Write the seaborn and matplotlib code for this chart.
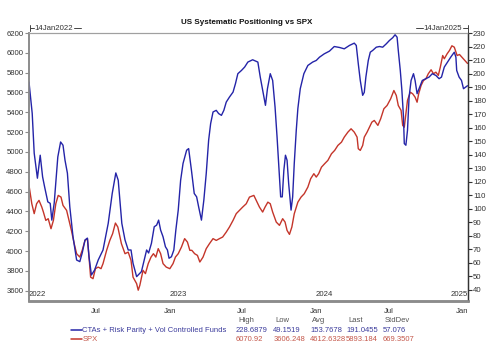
import matplotlib
matplotlib.use("Agg")
import matplotlib.pyplot as plt
import matplotlib.dates as mdates
from matplotlib.lines import Line2D
import pandas as pd
import seaborn as sns

sns.set_theme(style="white")
plt.rcParams["font.family"] = ["Liberation Sans", "DejaVu Sans"]

BLUE = "#2424a8"
RED = "#c4352a"
BLUE_TXT = "#3c3c9c"
RED_TXT = "#c4574a"
GREY = "#8c8c8c"

# CTAs + Risk Parity + Vol Controlled Funds (right axis)
pos_dates = [
    "2022-01-14", "2022-01-22", "2022-01-27", "2022-02-04", "2022-02-11", "2022-02-17",
    "2022-02-22", "2022-03-02", "2022-03-08", "2022-03-12", "2022-03-18", "2022-03-27",
    "2022-04-03", "2022-04-09", "2022-04-14", "2022-04-20", "2022-04-26", "2022-05-04",
    "2022-05-13", "2022-05-21", "2022-05-27", "2022-06-03", "2022-06-09", "2022-06-13",
    "2022-06-19", "2022-06-27", "2022-07-06", "2022-07-18", "2022-07-31", "2022-08-10",
    "2022-08-19", "2022-08-25", "2022-09-03", "2022-09-11", "2022-09-19", "2022-09-26",
    "2022-10-01", "2022-10-10", "2022-10-18", "2022-10-22", "2022-10-29", "2022-11-04",
    "2022-11-09", "2022-11-16", "2022-11-23", "2022-11-29", "2022-12-04", "2022-12-09",
    "2022-12-15", "2022-12-21", "2022-12-26", "2022-12-30", "2023-01-05", "2023-01-11",
    "2023-01-16", "2023-01-22", "2023-01-28", "2023-02-03", "2023-02-12", "2023-02-17",
    "2023-02-24", "2023-03-03", "2023-03-09", "2023-03-14", "2023-03-21", "2023-03-27",
    "2023-04-02", "2023-04-08", "2023-04-13", "2023-04-19", "2023-04-27", "2023-05-03",
    "2023-05-10", "2023-05-16", "2023-05-22", "2023-05-30", "2023-06-08", "2023-06-14",
    "2023-06-20", "2023-06-29", "2023-07-07", "2023-07-15", "2023-07-27", "2023-08-09",
    "2023-08-15", "2023-08-21", "2023-08-28", "2023-09-02", "2023-09-09", "2023-09-15",
    "2023-09-21", "2023-09-26", "2023-09-30", "2023-10-05", "2023-10-09", "2023-10-13",
    "2023-10-17", "2023-10-21", "2023-10-25", "2023-10-31", "2023-11-04", "2023-11-08",
    "2023-11-13", "2023-11-17", "2023-11-23", "2023-12-02", "2023-12-12", "2023-12-24",
    "2024-01-02", "2024-01-10", "2024-01-22", "2024-02-04", "2024-02-16", "2024-02-29",
    "2024-03-12", "2024-03-25", "2024-04-06", "2024-04-11", "2024-04-16", "2024-04-21",
    "2024-04-27", "2024-05-01", "2024-05-05", "2024-05-11", "2024-05-16", "2024-05-22",
    "2024-05-31", "2024-06-08", "2024-06-16", "2024-06-25", "2024-07-03", "2024-07-11",
    "2024-07-17", "2024-07-22", "2024-07-25", "2024-07-30", "2024-08-03", "2024-08-07",
    "2024-08-09", "2024-08-13", "2024-08-17", "2024-08-21", "2024-08-26", "2024-09-01",
    "2024-09-05", "2024-09-10", "2024-09-15", "2024-09-23", "2024-10-02", "2024-10-10",
    "2024-10-18", "2024-10-27", "2024-11-04", "2024-11-10", "2024-11-17", "2024-11-25",
    "2024-12-03", "2024-12-12", "2024-12-16", "2024-12-18", "2024-12-24", "2024-12-30",
    "2025-01-04", "2025-01-14",
]
pos_values = [
    193.7, 170.6, 141.1, 122.6, 139.6, 123.6,
    116.2, 105.1, 104.0, 91.6, 104.2, 138.3,
    149.4, 147.0, 135.9, 126.3, 101.4, 79.3,
    62.1, 60.9, 67.3, 76.9, 78.3, 64.5,
    51.0, 54.7, 62.1, 69.5, 89.2, 111.3,
    126.5, 121.1, 89.2, 76.9, 69.5, 69.5,
    59.7, 49.8, 52.3, 53.5, 62.1, 69.5,
    67.3, 74.4, 86.7, 87.9, 91.6, 84.2,
    79.3, 71.9, 69.5, 63.4, 64.5, 69.5,
    84.2, 99.0, 121.1, 133.5, 143.3, 144.5,
    128.5, 111.3, 108.8, 101.4, 91.6, 106.4,
    126.1, 150.7, 163.0, 171.6, 172.8, 170.4,
    169.1, 172.8, 178.9, 182.6, 186.3, 192.5,
    199.9, 202.3, 204.8, 208.5, 210.2, 208.5,
    197.4, 187.6, 176.5, 188.8, 199.9, 194.9,
    175.2, 153.1, 133.5, 108.8, 108.8, 128.5,
    139.6, 135.9, 118.7, 99.0, 108.8, 133.5,
    158.0, 174.1, 188.8, 199.9, 206.0, 208.5,
    209.7, 212.1, 214.6, 216.6, 220.0, 219.3,
    218.3, 220.8, 222.5, 220.8, 207.3, 194.9,
    183.9, 186.1, 197.4, 209.7, 215.8, 217.1,
    219.5, 220.0, 219.5, 222.0, 224.5, 226.5,
    228.7, 226.9, 217.1, 202.3, 187.6, 167.9,
    148.2, 147.0, 158.0, 182.6, 194.9, 199.9,
    194.9, 185.1, 188.8, 194.9, 196.2, 197.4,
    199.9, 198.6, 196.2, 197.4, 204.8, 208.5,
    212.1, 215.8, 212.1, 202.3, 197.4, 194.9,
    188.8, 191.0,
]

# SPX (left axis)
spx_dates = [
    "2022-01-14", "2022-01-21", "2022-01-27", "2022-02-02", "2022-02-08", "2022-02-15",
    "2022-02-19", "2022-02-25", "2022-03-03", "2022-03-10", "2022-03-16", "2022-03-22",
    "2022-03-28", "2022-04-04", "2022-04-09", "2022-04-18", "2022-04-24", "2022-04-30",
    "2022-05-07", "2022-05-13", "2022-05-21", "2022-05-27", "2022-06-03", "2022-06-09",
    "2022-06-13", "2022-06-17", "2022-06-23", "2022-06-29", "2022-07-06", "2022-07-13",
    "2022-07-18", "2022-07-27", "2022-08-04", "2022-08-11", "2022-08-18", "2022-08-24",
    "2022-09-02", "2022-09-11", "2022-09-19", "2022-09-26", "2022-10-01", "2022-10-10",
    "2022-10-14", "2022-10-18", "2022-10-26", "2022-11-01", "2022-11-08", "2022-11-15",
    "2022-11-21", "2022-11-27", "2022-12-03", "2022-12-09", "2022-12-15", "2022-12-23",
    "2023-01-01", "2023-01-09", "2023-01-15", "2023-01-22", "2023-01-30", "2023-02-07",
    "2023-02-14", "2023-02-20", "2023-02-25", "2023-03-04", "2023-03-11", "2023-03-17",
    "2023-03-25", "2023-04-02", "2023-04-10", "2023-04-19", "2023-04-27", "2023-05-05",
    "2023-05-13", "2023-05-22", "2023-05-30", "2023-06-08", "2023-06-16", "2023-06-24",
    "2023-07-02", "2023-07-11", "2023-07-19", "2023-07-30", "2023-08-05", "2023-08-13",
    "2023-08-21", "2023-08-27", "2023-09-03", "2023-09-09", "2023-09-15", "2023-09-24",
    "2023-10-02", "2023-10-10", "2023-10-16", "2023-10-21", "2023-10-27", "2023-11-02",
    "2023-11-08", "2023-11-17", "2023-11-25", "2023-12-03", "2023-12-12", "2023-12-19",
    "2023-12-27", "2024-01-02", "2024-01-08", "2024-01-15", "2024-01-23", "2024-01-31",
    "2024-02-09", "2024-02-17", "2024-02-25", "2024-03-05", "2024-03-12", "2024-03-21",
    "2024-03-29", "2024-04-06", "2024-04-13", "2024-04-16", "2024-04-21", "2024-04-27",
    "2024-05-01", "2024-05-08", "2024-05-14", "2024-05-20", "2024-05-26", "2024-06-04",
    "2024-06-11", "2024-06-19", "2024-06-27", "2024-07-06", "2024-07-14", "2024-07-20",
    "2024-07-25", "2024-08-01", "2024-08-05", "2024-08-09", "2024-08-13", "2024-08-17",
    "2024-08-24", "2024-08-30", "2024-09-05", "2024-09-10", "2024-09-14", "2024-09-20",
    "2024-09-26", "2024-10-02", "2024-10-08", "2024-10-15", "2024-10-21", "2024-10-27",
    "2024-11-02", "2024-11-07", "2024-11-13", "2024-11-17", "2024-11-24", "2024-11-30",
    "2024-12-06", "2024-12-12", "2024-12-19", "2024-12-25", "2024-12-31", "2025-01-07",
    "2025-01-14",
]
spx_values = [
    4663, 4478, 4378, 4478, 4512, 4444,
    4394, 4310, 4327, 4226, 4310, 4478,
    4562, 4545, 4461, 4411, 4310, 4209,
    4075, 3974, 3940, 4008, 4108, 4126,
    3940, 3738, 3722, 3823, 3839, 3823,
    3874, 4008, 4108, 4176, 4283, 4243,
    4075, 3974, 3990, 3907, 3738, 3672,
    3606, 3655, 3806, 3773, 3874, 3940,
    3974, 3940, 4025, 3974, 3874, 3839,
    3823, 3874, 3940, 3974, 4041, 4126,
    4091, 4008, 4008, 3974, 3957, 3890,
    3940, 4025, 4075, 4126, 4108, 4126,
    4142, 4192, 4243, 4310, 4378, 4411,
    4444, 4478, 4545, 4562, 4512, 4444,
    4394, 4444, 4494, 4478, 4394, 4293,
    4260, 4327, 4293, 4209, 4169, 4243,
    4377, 4494, 4545, 4579, 4646, 4730,
    4781, 4747, 4781, 4847, 4882, 4915,
    4982, 5016, 5066, 5099, 5150, 5200,
    5234, 5200, 5150, 5033, 5016, 5066,
    5150, 5200, 5250, 5301, 5318, 5268,
    5335, 5436, 5469, 5537, 5620, 5570,
    5469, 5419, 5268, 5250, 5386, 5520,
    5603, 5587, 5553, 5502, 5587, 5671,
    5721, 5738, 5789, 5829, 5789, 5805,
    5772, 5855, 5973, 5940, 5990, 6024,
    6071, 6057, 5973, 5983, 5956, 5923,
    5893,
]

legend_names = ["CTAs + Risk Parity + Vol Controlled Funds", "SPX"]
stat_headers = ["High", "Low", "Avg", "Last", "StdDev"]
pos_stats = ["228.6879", "49.1519", "153.7678", "191.0455", "57.076"]
spx_stats = ["6070.92", "3606.248", "4612.6328", "5893.184", "669.3507"]

pos = pd.DataFrame({"date": pd.to_datetime(pos_dates), "value": pos_values})
spx = pd.DataFrame({"date": pd.to_datetime(spx_dates), "value": spx_values})

W, H = 500, 357


def fx(x):
    return x / W


def fy(y):
    return 1 - y / H


fig = plt.figure(figsize=(5, 3.57), dpi=100)
fig.patch.set_facecolor("white")
ax = fig.add_axes([fx(29), fy(300.7), (467.5 - 29) / W, (300.7 - 33) / H])
ax2 = ax.twinx()

sns.lineplot(data=spx, x="date", y="value", ax=ax, color=RED, linewidth=1.0)
sns.lineplot(data=pos, x="date", y="value", ax=ax2, color=BLUE, linewidth=1.0)

ax.set_xlim(pd.Timestamp("2022-01-14"), pd.Timestamp("2025-01-14"))
ax.set_ylim(3500, 6200)
ax2.set_ylim(32, 230)
ax.set_yticks(range(3600, 6201, 200))
ax2.set_yticks(range(40, 231, 10))
ax.set_xlabel("")
ax.set_ylabel("")
ax2.set_ylabel("")

tick_fs = 5.6
ax.xaxis.set_major_locator(mdates.MonthLocator(bymonth=[1, 7]))
ax.xaxis.set_major_formatter(mdates.DateFormatter("%b"))
ax.tick_params(axis="x", direction="out", length=3, width=0.8, color=GREY,
               labelsize=tick_fs, labelcolor="#333333", pad=2)
ax.tick_params(axis="y", direction="out", length=3, width=0.8, color=GREY,
               labelsize=tick_fs, labelcolor="#333333", pad=1)
ax2.tick_params(axis="y", direction="out", length=3, width=0.8, color="#333333",
                labelsize=tick_fs, labelcolor="#333333", pad=1)

for a in (ax, ax2):
    a.grid(False)
    a.spines["left"].set_color(GREY)
    a.spines["left"].set_linewidth(1.2)
    a.spines["top"].set_color("#a0a0a0")
    a.spines["top"].set_linewidth(0.8)
    a.spines["bottom"].set_color(GREY)
    a.spines["bottom"].set_linewidth(1.8)
    a.spines["right"].set_color("#333333")
    a.spines["right"].set_linewidth(0.9)

# year labels inside the plot, left aligned on each January
for yr, d, ha in [("2022", "2022-01-14", "left"), ("2023", "2023-01-01", "left"),
                  ("2024", "2024-01-01", "left"), ("2025", "2025-01-14", "right")]:
    ax.text(pd.Timestamp(d), 3500 + 25, yr, fontsize=tick_fs, color="#333333",
            ha=ha, va="bottom")

fig.text(fx(246.5), fy(22), "US Systematic Positioning vs SPX", fontsize=5.8,
         fontweight="bold", ha="center", va="center", color="#111111")

# range markers above the frame
fig.add_artist(Line2D([fx(30), fx(30)], [fy(25), fy(31)], color="#444444", lw=0.7))
fig.add_artist(Line2D([fx(30), fx(34)], [fy(28), fy(28)], color="#444444", lw=0.7))
fig.text(fx(34.5), fy(28), "14Jan2022", fontsize=tick_fs, color="#333333",
         ha="left", va="center")
fig.add_artist(Line2D([fx(74), fx(81)], [fy(28), fy(28)], color="#444444", lw=0.7))
fig.add_artist(Line2D([fx(416), fx(423)], [fy(28), fy(28)], color="#444444", lw=0.7))
fig.text(fx(423.5), fy(28), "14Jan2025", fontsize=tick_fs, color="#333333",
         ha="left", va="center")
fig.add_artist(Line2D([fx(463), fx(467.5)], [fy(28), fy(28)], color="#444444", lw=0.7))
fig.add_artist(Line2D([fx(467.5), fx(467.5)], [fy(25), fy(33)], color="#444444", lw=0.7))

# legend and stats table below the chart
txt_fs = 5.5
rows = [(BLUE, BLUE_TXT, legend_names[0], pos_stats, 330),
        (RED, RED_TXT, legend_names[1], spx_stats, 339.3)]
stat_x = [236, 273.3, 310, 346, 382.7]
for hx, h in zip(stat_x, stat_headers):
    fig.text(fx(hx + 2), fy(320.5), h, fontsize=txt_fs, color="#555555",
             ha="left", va="center")
for lc, tc, name, stats, y in rows:
    fig.add_artist(Line2D([fx(70.7), fx(81.7)], [fy(y), fy(y)], color=lc, lw=1.1))
    fig.text(fx(82.5), fy(y), name, fontsize=txt_fs, color=tc, ha="left", va="center")
    for sx, s in zip(stat_x, stats):
        fig.text(fx(sx), fy(y), s, fontsize=txt_fs, color=tc, ha="left", va="center")

fig.savefig("out.png", dpi=100, facecolor="white")
